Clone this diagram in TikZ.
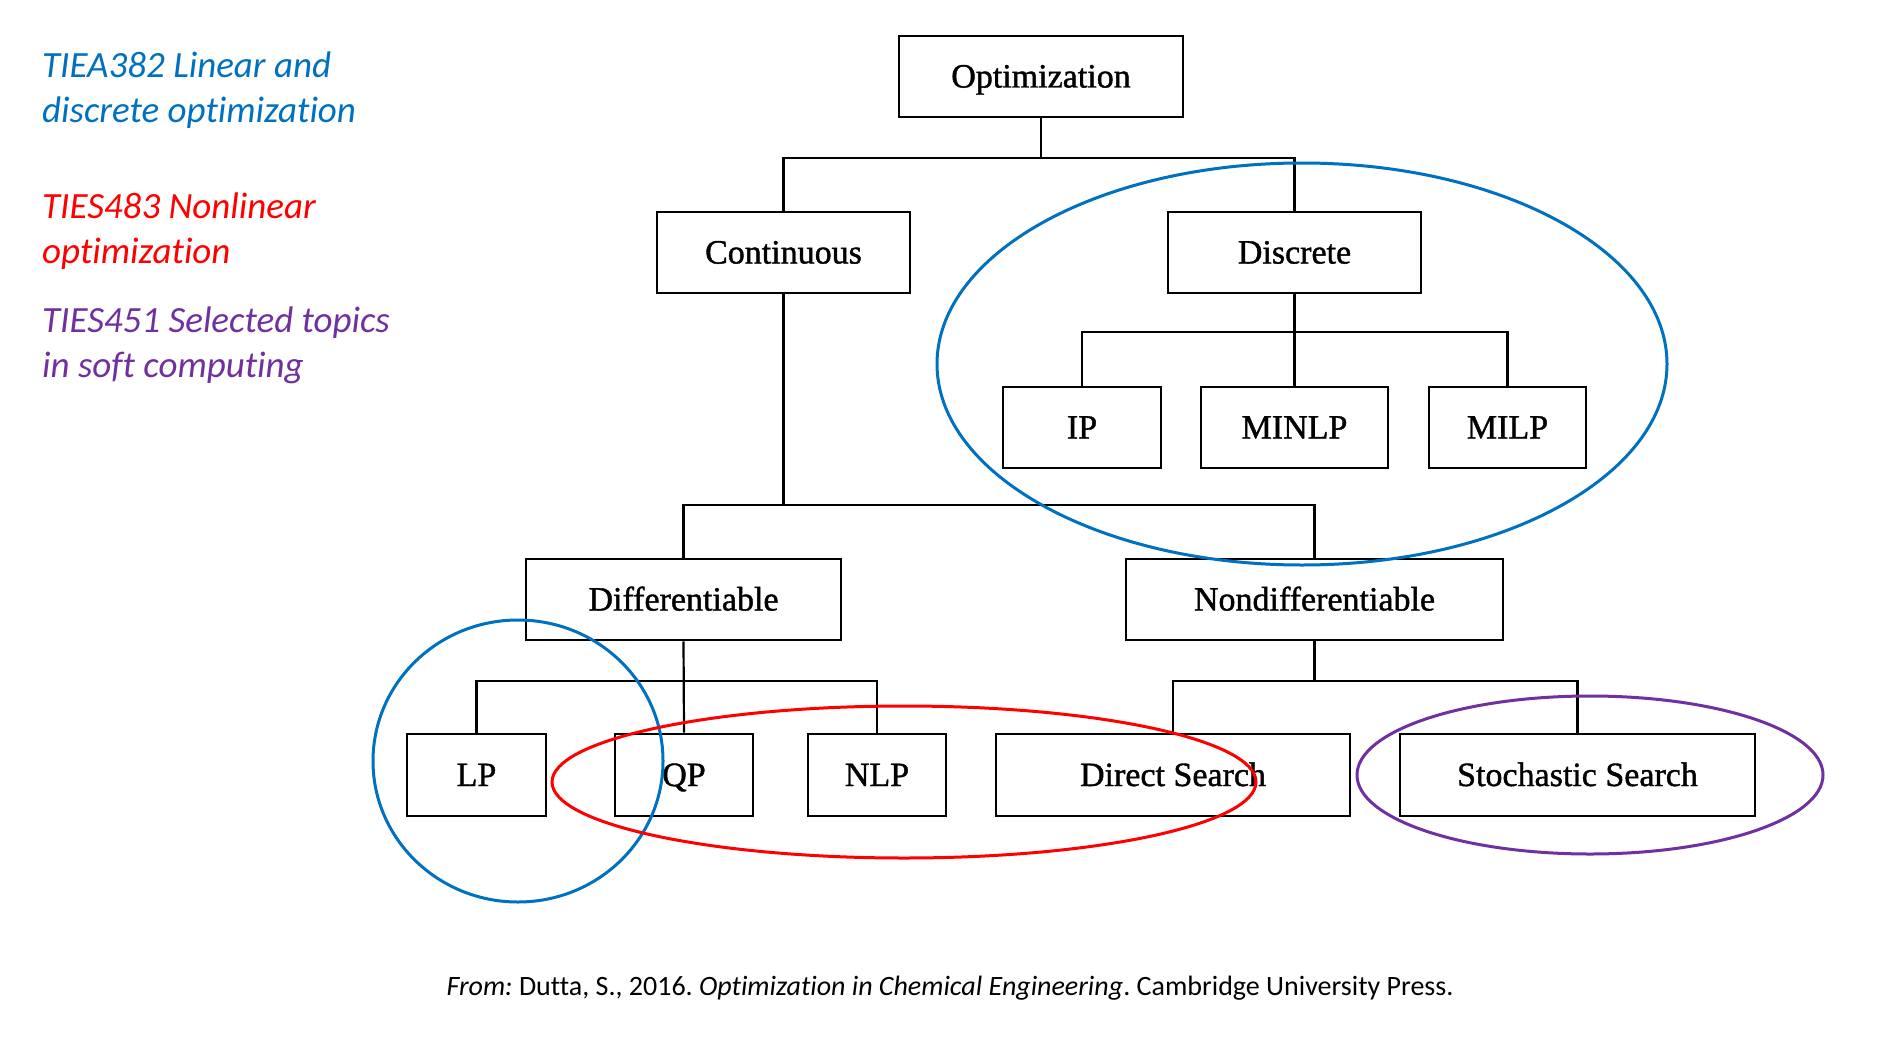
\documentclass[tikz,border=0pt]{standalone}
\usepackage{fontspec}
\setmainfont{Liberation Serif}
\newfontfamily\carlito[Ligatures=NoCommon]{Carlito}
\newfontfamily\boxfont[FakeBold=1.2]{Liberation Serif}
\definecolor{myblue}{RGB}{0,112,192}
\definecolor{myred}{RGB}{255,0,0}
\definecolor{mypurple}{RGB}{112,48,160}
\frenchspacing
\begin{document}
\begin{tikzpicture}[x=1pt,y=-1pt,
  box/.style={draw, line width=2.6pt, inner sep=0pt, minimum height=81pt,
    text height=22pt, text depth=0pt, font=\boxfont\fontsize{34}{40}\selectfont},
  conn/.style={line width=2.2pt},
  side/.style={anchor=base west, inner sep=0pt, font=\carlito\itshape\fontsize{37}{45}\selectfont},
  ring/.style={line width=3pt}]
\useasboundingbox (0,0) rectangle (1878,1046);

% side labels
\node[side, text=myblue] (t1a) at (42,78) {TIEA382 Linear and};
\node[side, text=myblue] (t1b) at (42,123) {discrete optimization};
\node[side, text=myred] (t2a) at (42,218) {TIES483 Nonlinear};
\node[side, text=myred] (t2b) at (42,263) {optimization};
\node[side, text=mypurple] (t3a) at (42,332) {TIES451 Selected topics};
\node[side, text=mypurple] (t3b) at (42,377) {in soft computing};

% boxes
\node[box, minimum width=284pt] (opt) at (1041,76.5) {Optimization};
\node[box, minimum width=253pt] (cont) at (783.5,252.5) {Continuous};
\node[box, minimum width=253pt] (disc) at (1294.5,252.5) {Discrete};
\node[box, minimum width=158pt] (ip) at (1082,427.5) {IP};
\node[box, minimum width=187pt] (minlp) at (1294.5,427.5) {MINLP};
\node[box, minimum width=157pt] (milp) at (1507.5,427.5) {MILP};
\node[box, minimum width=315pt] (diff) at (683.5,599.5) {Differentiable};
\node[box, minimum width=377pt] (nondiff) at (1314.5,599.5) {Nondifferentiable};
\node[box, minimum width=139pt, minimum height=82pt] (lp) at (476.5,775) {LP};
\node[box, minimum width=138pt, minimum height=82pt] (qp) at (684,775) {QP};
\node[box, minimum width=138pt, minimum height=82pt] (nlp) at (877,775) {NLP};
\node[box, minimum width=354pt, minimum height=82pt] (ds) at (1173,775) {Direct Search};
\node[box, minimum width=355pt, minimum height=82pt] (ss) at (1577.5,775) {Stochastic Search};

% connectors
\coordinate (b1) at (1041,158);
\coordinate (b2) at (783.5,505);
\coordinate (b3) at (1294.5,332);
\coordinate (b4) at (683.5,681);
\coordinate (b5) at (1314.5,681);
\draw[conn] (opt.south) -- (b1);
\draw[conn] (cont.north) |- (b1) -| (disc.north);
\draw[conn] (cont.south) -- (b2);
\draw[conn] (diff.north) |- (b2) -| (nondiff.north);
\draw[conn] (disc.south) -- (minlp.north);
\draw[conn] (ip.north) |- (b3) -| (milp.north);
\draw[conn] (diff.south) -- (qp.north);
\draw[conn] (lp.north) |- (b4) -| (nlp.north);
\draw[conn] (nondiff.south) -- (b5);
\draw[conn] (ds.north) |- (b5) -| (ss.north);

% highlight ellipses
\draw[ring, myblue] (1302,364) ellipse [x radius=365pt, y radius=201pt];
\draw[ring, myblue] (518,761) ellipse [x radius=145pt, y radius=141pt];
\draw[ring, myred] (904,782) ellipse [x radius=352pt, y radius=76pt];
\draw[ring, mypurple] (1590,775) ellipse [x radius=233pt, y radius=79pt];

% caption
\node[anchor=base, inner sep=0pt, font=\carlito\fontsize{28}{32}\selectfont] (cap) at (950,995)
  {\textit{From:} Dutta, S., 2016. \textit{Optimization in Chemical Engineering}. Cambridge University Press.};
\end{tikzpicture}
\end{document}
